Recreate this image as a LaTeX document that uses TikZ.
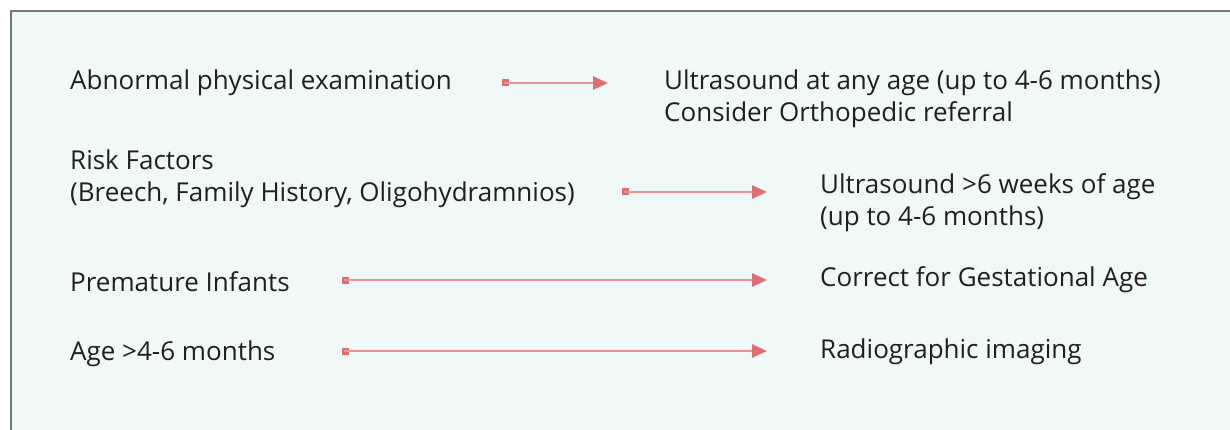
\documentclass[tikz,border=0pt]{standalone}
\usepackage{fontspec}
\setmainfont{Open Sans}
\usetikzlibrary{arrows.meta}

\definecolor{ddhpanel}{RGB}{240,249,248}
\definecolor{ddhframe}{RGB}{120,120,120}
\definecolor{ddhline}{RGB}{232,148,150}
\definecolor{ddhtip}{RGB}{224,110,112}
\definecolor{ddhtext}{RGB}{35,31,32}

\tikzset{
  ddhtext/.style={anchor=west, align=left, inner sep=0pt, text=ddhtext,
    font=\fontsize{26}{32}\selectfont},
  ddhstart/.style={rectangle, fill=ddhtip, minimum size=7pt, inner sep=0pt},
  ddharrow/.style={draw=ddhline, line width=2.6pt,
    -{Triangle[length=15pt, width=13pt, color=ddhtip]}, shorten <=-1pt}
}

\begin{document}
\begin{tikzpicture}[x=1pt, y=-1pt]
\useasboundingbox (0,0) rectangle (1230,430);
\fill[ddhpanel] (11,11) rectangle (1230,430);
\draw[ddhframe, line width=2pt] (11,430) -- (11,11) -- (1230,11);

\node[ddhtext] (a1) at (70,83) {Abnormal physical examination};
\node[ddhtext] (a2) at (70,179) {Risk Factors\\(Breech, Family History, Oligohydramnios)};
\node[ddhtext] (a3) at (70,282) {Premature Infants};
\node[ddhtext] (a4) at (70,354) {Age >4-6 months};

\node[ddhtext] (b1) at (664,99) {Ultrasound at any age (up to 4-6 months)\\Consider Orthopedic referral};
\node[ddhtext] (b2) at (820,203) {Ultrasound >6 weeks of age\\(up to 4-6 months)};
\node[ddhtext] (b3) at (820,280) {Correct for Gestational Age};
\node[ddhtext] (b4) at (820,352) {Radiographic imaging};

\node[ddhstart] (s1) at (505,83) {};
\node[ddhstart] (s2) at (625,192) {};
\node[ddhstart] (s3) at (345,280) {};
\node[ddhstart] (s4) at (345,351) {};

\coordinate (e1) at (608,83);
\coordinate (e2) at (767,192);
\coordinate (e3) at (767,280);
\coordinate (e4) at (767,351);

\draw[ddharrow] (s1.center) -- (e1);
\draw[ddharrow] (s2.center) -- (e2);
\draw[ddharrow] (s3.center) -- (e3);
\draw[ddharrow] (s4.center) -- (e4);
\end{tikzpicture}
\end{document}
